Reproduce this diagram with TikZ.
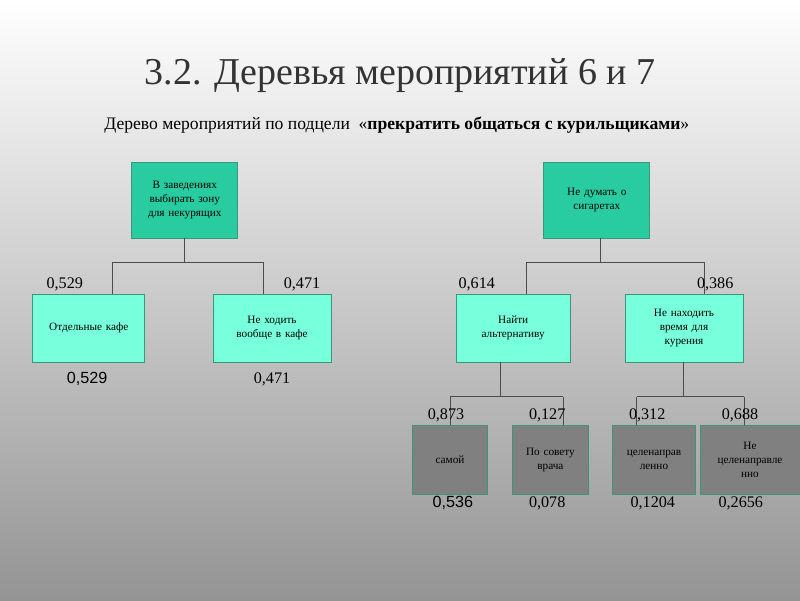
\documentclass[tikz,border=0pt]{standalone}
\usepackage{fontspec}
\setmainfont{Liberation Serif}
\setsansfont{Liberation Sans}
\usetikzlibrary{positioning}
\definecolor{root-green}{RGB}{40,204,160}
\definecolor{leaf-aqua}{RGB}{120,255,220}
\definecolor{edge-teal}{RGB}{60,150,120}
\definecolor{leaf-gray}{RGB}{128,128,128}

\begin{document}
\begin{tikzpicture}
    [box/.style = {rectangle, draw=edge-teal, align=center, font=\fontsize{8}{10}\selectfont, inner sep=1pt},
    rootbox/.style = {box, fill=root-green, minimum width=2.65cm, minimum height=1.9cm, text width=2.5cm},
    midbox/.style = {box, fill=leaf-aqua, minimum height=1.7cm},
    lowbox/.style = {box, fill=leaf-gray, minimum height=1.72cm},
    num/.style = {font=\fontsize{11.5}{13}\selectfont},
    line width=0.6pt, draw=black!70,
    ]
    \shade[top color=white, bottom color=black!42] (0,0) rectangle (20,-15);
    \useasboundingbox (0,0) rectangle (20,-15);

    \node[font=\fontsize{27}{30}\selectfont, text=black!80] (title) at (10,-1.9) {3.2. Деревья мероприятий 6 и 7};
    \node[font=\fontsize{12.5}{15}\selectfont] (sub) at (9.92,-3.12) {Дерево мероприятий по подцели \ «\textbf{прекратить общаться с курильщиками}»};

	\node[rootbox] (r6) at (4.62, -5) {В заведениях выбирать зону для некурящих};
	\node[rootbox] (r7) at (14.92, -5) {Не думать о сигаретах};

	\node[midbox, minimum width=2.8cm, text width=2.7cm] (cafe) at (2.22, -8.2) {Отдельные кафе};
	\node[midbox, minimum width=2.95cm, text width=2.7cm] (nocafe) at (6.8, -8.2) {Не ходить\\вообще в кафе};
	\node[midbox, minimum width=2.85cm, text width=2.5cm] (alt) at (12.83, -8.2) {Найти\\альтернативу};
	\node[midbox, minimum width=2.95cm, text width=2.5cm] (notime) at (17.1, -8.2) {Не находить\\время для\\курения};

	\node[lowbox, minimum width=1.88cm, text width=1.8cm] (self) at (11.25, -11.5) {самой};
	\node[lowbox, minimum width=1.88cm, text width=1.8cm] (doc) at (13.76, -11.5) {По совету\\врача};
	\node[lowbox, minimum width=2.05cm, text width=2cm] (aim) at (16.35, -11.5) {целенаправ\\ленно};
	\node[lowbox, minimum width=2.5cm, text width=2.4cm] (noaim) at (18.75, -11.5) {Не\\целенаправле\\нно};

	\coordinate (j6) at (4.62, -6.55);
	\coordinate (j6l) at (2.82, -6.55);
	\coordinate (j6r) at (6.58, -6.55);
	\coordinate (j7) at (15.0, -6.55);
	\coordinate (j7l) at (13.15, -6.55);
	\coordinate (j7r) at (17.62, -6.55);
	\coordinate (ja) at (12.5, -9.92);
	\coordinate (jal) at (11.25, -9.92);
	\coordinate (jar) at (14.08, -9.92);
	\coordinate (jn) at (17.08, -9.92);
	\coordinate (jnl) at (15.92, -9.92);
	\coordinate (jnr) at (18.6, -9.92);

    \draw (r6.south) -- (j6);
    \draw (j6l) -- (j6r);
    \draw (j6l) -- (j6l |- cafe.north);
    \draw (j6r) -- (j6r |- nocafe.north);
    \draw (j7 |- r7.south) -- (j7);
    \draw (j7l) -- (j7r);
    \draw (j7l) -- (j7l |- alt.north);
    \draw (j7r) -- (j7r |- notime.north);
    \draw (ja |- alt.south) -- (ja);
    \draw (jal) -- (jar);
    \draw (jal) -- (jal |- self.north);
    \draw (jar) -- (jar |- doc.north);
    \draw (jn |- notime.south) -- (jn);
    \draw (jnl) -- (jnr);
    \draw (jnl) -- (jnl |- aim.north);
    \draw (jnr) -- (jnr |- noaim.north);

	\node[num] (p1) at (1.62, -7.12) {0,529};
	\node[num] (p2) at (7.55, -7.12) {0,471};
	\node[num] (p3) at (11.92, -7.12) {0,614};
	\node[num] (p4) at (17.88, -7.12) {0,386};
	\node[num, font=\sffamily\fontsize{11.5}{13}\selectfont] (w1) at (2.18, -9.48) {0,529};
	\node[num] (w2) at (6.8, -9.48) {0,471};
	\node[num] (p5) at (11.15, -10.38) {0,873};
	\node[num] (p6) at (13.68, -10.38) {0,127};
	\node[num] (p7) at (16.18, -10.38) {0,312};
	\node[num] (p8) at (18.5, -10.38) {0,688};
	\node[num, font=\sffamily\fontsize{11.5}{13}\selectfont] (w5) at (11.32, -12.58) {0,536};
	\node[num] (w6) at (13.68, -12.58) {0,078};
	\node[num] (w7) at (16.32, -12.58) {0,1204};
	\node[num] (w8) at (18.52, -12.58) {0,2656};
\end{tikzpicture}
\end{document}
